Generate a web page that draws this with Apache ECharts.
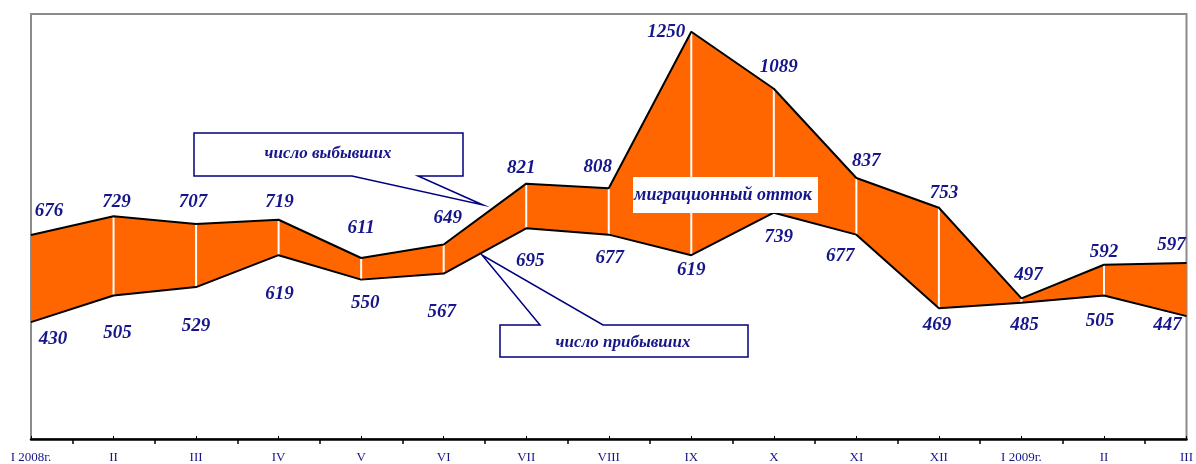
<!DOCTYPE html>
<html>
<head>
<meta charset="utf-8">
<script src="https://cdn.jsdelivr.net/npm/echarts@6/dist/echarts.min.js"></script>
<style>
  html, body { margin: 0; padding: 0; background: #fff; }
  #chart { width: 1196px; height: 464px; }
</style>
</head>
<body>
<div id="chart"></div>
<script>
// months, Jan 2008 - Mar 2009
const months = ['I 2008г.', 'II', 'III', 'IV', 'V', 'VI', 'VII', 'VIII', 'IX', 'X', 'XI', 'XII', 'I 2009г.', 'II', 'III']
// число выбывших
const departed = [676, 729, 707, 719, 611, 649, 821, 808, 1250, 1089, 837, 753, 497, 592, 597]
// число прибывших
const arrived = [430, 505, 529, 619, 550, 567, 695, 677, 619, 739, 677, 469, 485, 505, 447]

// label nudges (px), so numbers sit like in the original
const departedLabelShift = [[18, -24], [3, -14], [-3, -22], [1, -18], [0, -30], [4, -26], [-5, -16], [-11, -21],
  [-25, 0], [5, -22], [10, -17], [5, -15], [7, -23], [0, -13], [-15, -18]]
const arrivedLabelShift = [[22, 17], [4, 38], [0, 39], [1, 39], [4, 23], [-2, 38], [4, 33], [1, 23],
  [0, 15], [5, 24], [-16, 21], [-2, 17], [3, 22], [-4, 26], [-19, 9]]

const navy = '#16168a'
const orange = '#ff6600'
const serif = '"Liberation Serif", "DejaVu Serif", serif'

const chart = echarts.init(document.getElementById('chart'))

const numLabel = {
  show: true,
  color: navy,
  fontFamily: serif,
  fontStyle: 'italic',
  fontWeight: 'bold',
  fontSize: 19,
  align: 'center',
  verticalAlign: 'middle'
}

const lineSeries = (name, values, shifts) => ({
  name,
  type: 'line',
  symbol: 'circle',
  symbolSize: 2,
  showSymbol: true,
  z: 4,
  itemStyle: { color: 'rgba(0,0,0,0)', borderWidth: 0 },
  lineStyle: { color: '#000', width: 2 },
  label: numLabel,
  labelLayout: { hideOverlap: false },
  // position is relative to the 2px symbol's top-left corner
  data: values.map((v, i) => ({ value: v, label: { position: [1 + shifts[i][0], 1 + shifts[i][1]] } }))
})

const option = {
  animation: false,
  grid: {
    left: 31, right: 8, top: 14, bottom: 24,
    show: true, borderColor: '#8c8c8c', borderWidth: 2
  },
  xAxis: [{
    type: 'category',
    data: months,
    boundaryGap: false,
    axisLine: { lineStyle: { color: '#000', width: 2.5 } },
    axisTick: { inside: true, length: 3, lineStyle: { color: '#000' } },
    axisLabel: { color: navy, fontFamily: serif, fontSize: 13, margin: 12, interval: 0 },
    splitLine: { show: false }
  }, {
    // half-month steps, only used for the outer ticks between months
    type: 'category',
    position: 'bottom',
    data: months.flatMap((m, i) => i ? ['', m] : [m]),
    boundaryGap: false,
    axisLine: { show: false },
    axisTick: { length: 5, interval: (i) => i % 2 === 1, lineStyle: { color: '#000', width: 1.5 } },
    axisLabel: { show: false },
    splitLine: { show: false }
  }],
  yAxis: {
    type: 'value', min: 100, max: 1300, show: false, splitLine: { show: false }
  },
  series: [
    {
      type: 'line', stack: 'band', symbol: 'none', silent: true, z: 1,
      lineStyle: { opacity: 0 },
      data: arrived
    },
    {
      type: 'line', stack: 'band', symbol: 'none', silent: true, z: 1,
      lineStyle: { opacity: 0 },
      areaStyle: { color: orange, opacity: 1 },
      data: departed.map((v, i) => v - arrived[i])
    },
    {
      // white separators between months
      type: 'custom', z: 3, silent: true,
      data: arrived.map((v, i) => [i, v, departed[i]]).slice(1, -1),
      renderItem: (params, api) => {
        const a = api.coord([api.value(0), api.value(1)])
        const b = api.coord([api.value(0), api.value(2)])
        return {
          type: 'line',
          shape: { x1: a[0], y1: a[1], x2: b[0], y2: b[1] },
          style: { stroke: '#fff', lineWidth: 2 }
        }
      }
    },
    lineSeries('число выбывших', departed, departedLabelShift),
    lineSeries('число прибывших', arrived, arrivedLabelShift)
  ],
  graphic: [
    {
      type: 'polygon', z: 50,
      shape: { points: [[194, 133], [463, 133], [463, 176], [418, 176], [483, 205], [352, 176], [194, 176]] },
      style: { fill: '#fff', stroke: '#000080', lineWidth: 1.5 }
    },
    {
      type: 'text', z: 51, x: 328, y: 154,
      style: {
        text: 'число выбывших', fill: navy, font: 'italic bold 17px ' + serif,
        align: 'center', verticalAlign: 'middle'
      }
    },
    {
      type: 'polygon', z: 50,
      shape: { points: [[500, 325], [540, 325], [482, 255], [603, 325], [748, 325], [748, 357], [500, 357]] },
      style: { fill: '#fff', stroke: '#000080', lineWidth: 1.5 }
    },
    {
      type: 'text', z: 51, x: 623, y: 343,
      style: {
        text: 'число прибывших', fill: navy, font: 'italic bold 17px ' + serif,
        align: 'center', verticalAlign: 'middle'
      }
    },
    {
      type: 'rect', z: 50,
      shape: { x: 633, y: 177, width: 185, height: 36 },
      style: { fill: '#fff' }
    },
    {
      type: 'text', z: 51, x: 723, y: 195,
      style: {
        text: 'миграционный отток', fill: navy, font: 'italic bold 18px ' + serif,
        align: 'center', verticalAlign: 'middle'
      }
    }
  ]
}

chart.setOption(option)
</script>
</body>
</html>
